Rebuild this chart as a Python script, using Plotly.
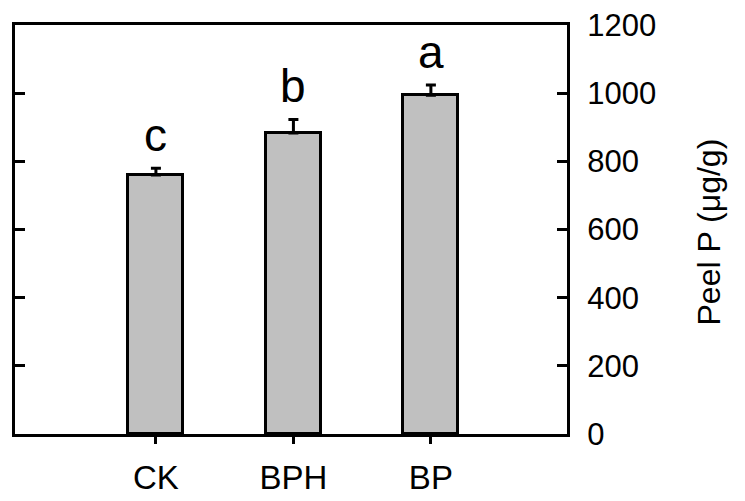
import plotly.graph_objects as go

categories = ["CK", "BPH", "BP"]
values = [760, 883, 994]
errors = [20, 40, 30]
letters = ["c", "b", "a"]
y_ticks = [0, 200, 400, 600, 800, 1000, 1200]
y_title = "Peel P (μg/g)"

FONT = "Liberation Sans, Arial, sans-serif"

fig = go.Figure()
fig.add_trace(go.Bar(
    x=[0, 1, 2], y=values, width=0.4,
    marker=dict(color="#c0c0c0", line=dict(color="black", width=3)),
    error_y=dict(type="data", array=errors, arrayminus=[0, 0, 0], symmetric=False,
                 color="black", thickness=3, width=5),
    showlegend=False,
))

for i, (v, e, t) in enumerate(zip(values, errors, letters)):
    fig.add_annotation(x=i, y=v + e, text=t, showarrow=False, xref="x", yref="y",
                       yanchor="bottom", yshift=5, font=dict(family=FONT, size=46, color="black"))

fig.add_annotation(x=1, y=0.5, xref="paper", yref="paper", text=y_title, showarrow=False,
                   textangle=-90, xanchor="center", yanchor="middle", xshift=141, yshift=-3,
                   font=dict(family=FONT, size=32, color="black"))

fig.update_layout(
    width=737, height=493,
    margin=dict(l=7, r=178, t=17, b=67),
    plot_bgcolor="white", paper_bgcolor="white",
    font=dict(family=FONT, color="black"),
    bargap=0,
)
fig.update_xaxes(
    range=[-1.025, 2.99], tickmode="array", tickvals=[0, 1, 2], ticktext=categories,
    showline=True, linecolor="black", linewidth=3, mirror=True,
    ticks="outside", ticklen=7, tickwidth=3, tickcolor="black",
    showgrid=False, zeroline=False, tickfont=dict(size=33, family=FONT),
    ticklabelstandoff=5, ticklabeloverflow="allow", automargin=False,
)
fig.update_yaxes(
    range=[0, 1200], side="right", tickvals=y_ticks,
    showline=True, linecolor="black", linewidth=3, mirror="ticks",
    ticks="inside", ticklen=10, tickwidth=3, tickcolor="black",
    showgrid=False, zeroline=False, tickfont=dict(size=31, family=FONT),
    ticklabelstandoff=11, ticklabeloverflow="allow", automargin=False,
)

fig.write_html("out.html")
